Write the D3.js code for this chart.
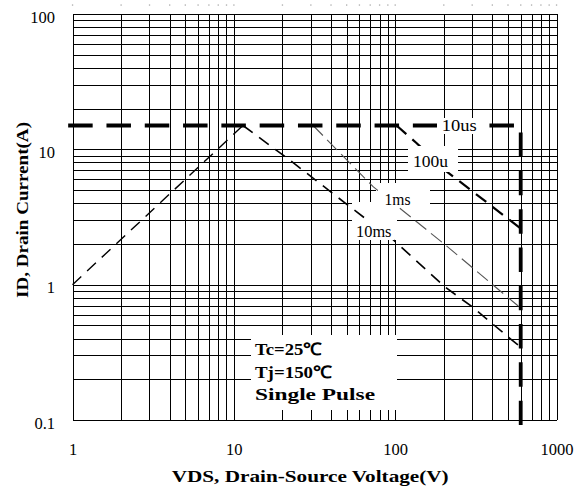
<!DOCTYPE html>
<html><head><meta charset="utf-8">
<script src="https://cdn.jsdelivr.net/npm/d3@7"></script>
<style>body{margin:0;background:#fff} svg{display:block}</style>
</head><body>
<svg id="c" width="577" height="487"></svg>
<script>
// ---------- data ----------
const xTicks = [1, 10, 100, 1000];
const xTickLabels = ["1", "10", "100", "1000"];
const yTicks = [0.1, 1, 10, 100];
const yTickLabels = ["0.1", "1", "10", "100"];
const xTitle = "VDS, Drain-Source Voltage(V)";
const yTitle = "ID, Drain Current(A)";
const legendLines = ["Tc=25\u2103", "Tj=150\u2103", "Single Pulse"];
const curveNames = ["10us", "100u", "1ms", "10ms"];
// SOA boundary curves  [VDS (V), ID (A)]
const rdsLimit = [[1, 1], [11.4, 15]];
const curve10us = [[0.94, 15], [600, 15], [600, 0.092]];
const curve100us = [[102, 15], [136, 11.1], [204, 7.0], [600, 2.6]];
const curve1ms = [[31, 15], [73, 5.3], [199, 2.02], [567, 0.71], [600, 0.67]];
const curve10ms = [[11.4, 15], [22.3, 8.3], [52.5, 3.76], [97.5, 2.14], [204, 0.96], [298, 0.69], [516, 0.40], [600, 0.345]];

// ---------- layout ----------
const L = 72.5, R = 556.5, T = 14, B = 420;
const svg = d3.select("#c");
const x = d3.scaleLog().domain([1, 1000]).range([L, R]);
const y = d3.scaleLog().domain([0.1, 100]).range([B, T]);

const gridX = [], gridY = [];
[1, 10, 100].forEach(d => { for (let m = 1; m <= 9; m++) gridX.push(m * d); });
gridX.push(1000);
[0.1, 1, 10].forEach(d => { for (let m = 1; m <= 9; m++) gridY.push(+(m * d).toPrecision(3)); });
gridY.push(100);

// grid via axes
const gx = svg.append("g").attr("transform", `translate(0,${B})`)
  .call(d3.axisBottom(x).tickValues(gridX).tickFormat("").tickSize(-(B - T)).tickSizeOuter(0));
gx.select(".domain").remove();
gx.selectAll("line").attr("stroke", "#000").attr("stroke-width", 1).attr("shape-rendering", "crispEdges");
const gy = svg.append("g").attr("transform", `translate(${L},0)`)
  .call(d3.axisLeft(y).tickValues(gridY).tickFormat("").tickSize(-(R - L)).tickSizeOuter(0));
gy.select(".domain").remove();
gy.selectAll("line").attr("stroke", "#000").attr("stroke-width", 1).attr("shape-rendering", "crispEdges");

// faint dots above the plot
svg.append("g").selectAll("rect").data(gridX).join("rect")
  .attr("x", d => x(d) - 0.6).attr("y", 4.4).attr("width", 1.3).attr("height", 1.3).attr("fill", "#aaa");

// white areas that interrupt the grid
const gridCuts = [[251, 335, 397, 410], [437, 118, 488, 134], [408, 146, 458, 172], [376, 183, 430, 207], [352, 202, 397, 240]];
svg.append("g").selectAll("rect").data(gridCuts).join("rect")
  .attr("x", d => d[0]).attr("y", d => d[1]).attr("width", d => d[2] - d[0]).attr("height", d => d[3] - d[1])
  .attr("fill", "#fff");

// curves
const line = d3.line().x(d => x(d[0])).y(d => y(d[1]));
const curves = [
  { data: rdsLimit, w: 1.4, c: "#000", dash: "12 8" },
  { data: curve10ms, w: 1.6, c: "#000", dash: "12 8" },
  { data: curve1ms, w: 1.1, c: "#555", dash: "14 6" },
  { data: curve100us, w: 2.2, c: "#000", dash: "13 8" },
  { data: curve10us, w: 3.8, c: "#000", dash: "24.5 13.8" }
];
svg.append("g").selectAll("path").data(curves).join("path")
  .attr("d", d => line(d.data)).attr("fill", "none")
  .attr("stroke", d => d.c).attr("stroke-width", d => d.w).attr("stroke-dasharray", d => d.dash);

// curve labels with white backgrounds
const labelPos = [
  { bg: [437, 118, 488, 134], tx: 441.7, ty: 131, len: 35 },
  { bg: [408, 146, 458, 172], tx: 413, ty: 167, len: 35 },
  { bg: [378, 188, 413, 207], tx: 384.5, ty: 205, len: 26 },
  { bg: [354, 219, 394, 240], tx: 356, ty: 236.5, len: 35.5 }
];
const lg = svg.append("g");
curveNames.forEach((name, i) => {
  const p = labelPos[i];
  lg.append("rect").attr("x", p.bg[0]).attr("y", p.bg[1]).attr("width", p.bg[2] - p.bg[0]).attr("height", p.bg[3] - p.bg[1]).attr("fill", "#fff");
  lg.append("text").attr("x", p.tx).attr("y", p.ty).text(name)
    .attr("font-family", "Liberation Serif, serif").attr("font-size", 16)
    .attr("textLength", p.len).attr("lengthAdjust", "spacingAndGlyphs").attr("fill", "#000");
});

// legend text
const legLen = [67, 77, 120];
const legY = [355, 377.5, 400];
svg.append("g").selectAll("text").data(legendLines).join("text")
  .attr("x", 255).attr("y", (d, i) => legY[i]).text(d => d)
  .attr("font-family", "Liberation Serif, serif").attr("font-weight", "bold").attr("font-size", 17)
  .attr("textLength", (d, i) => legLen[i]).attr("lengthAdjust", "spacingAndGlyphs");

// tick labels via axes
const ax = svg.append("g").attr("transform", `translate(0,${B})`)
  .call(d3.axisBottom(x).tickValues(xTicks).tickFormat((d, i) => xTickLabels[i]).tickSize(0));
ax.select(".domain").remove();
ax.selectAll("text").attr("y", 35).attr("dy", null)
  .attr("font-family", "Liberation Serif, serif").attr("font-size", 16.5).attr("fill", "#000");
const ay = svg.append("g").attr("transform", `translate(${L},0)`)
  .call(d3.axisLeft(y).tickValues(yTicks).tickFormat((d, i) => yTickLabels[i]).tickSize(0));
ay.select(".domain").remove();
ay.selectAll("text").attr("x", -17.5).attr("y", 8.2).attr("dy", null)
  .attr("font-family", "Liberation Serif, serif").attr("font-size", 16.5).attr("fill", "#000");

// axis titles
svg.append("text").attr("x", 171.7).attr("y", 481.5).text(xTitle)
  .attr("font-family", "Liberation Serif, serif").attr("font-weight", "bold").attr("font-size", 17.5)
  .attr("textLength", 277).attr("lengthAdjust", "spacingAndGlyphs");
svg.append("text").attr("transform", "translate(28,298) rotate(-90)").text(yTitle)
  .attr("font-family", "Liberation Serif, serif").attr("font-weight", "bold").attr("font-size", 17.5)
  .attr("textLength", 176).attr("lengthAdjust", "spacingAndGlyphs");
</script>
</body></html>
